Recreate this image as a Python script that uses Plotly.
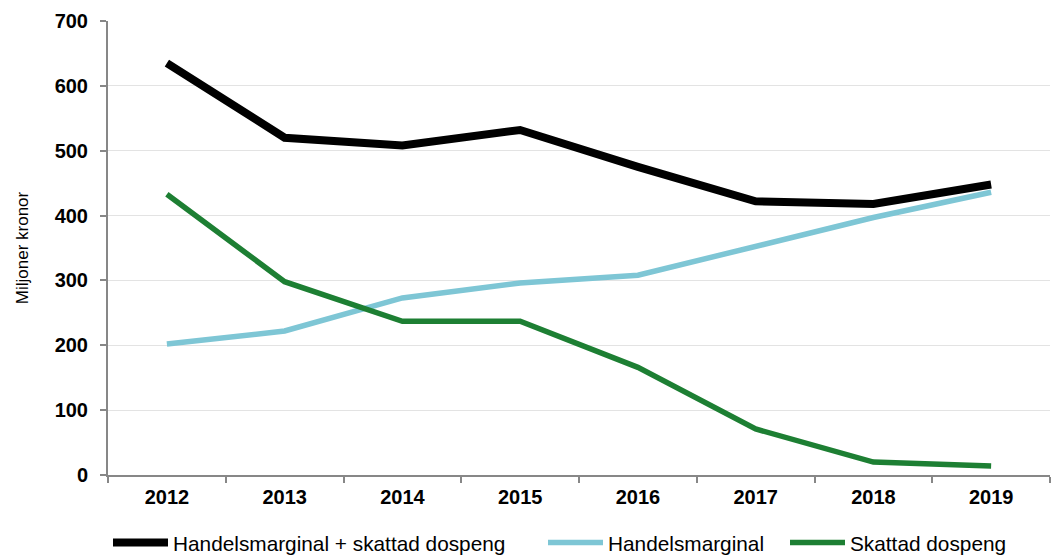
import plotly.graph_objects as go

years = ["2012", "2013", "2014", "2015", "2016", "2017", "2018", "2019"]
total = [635, 520, 508, 532, 475, 422, 418, 448]
handelsmarginal = [202, 222, 273, 296, 308, 352, 397, 436]
skattad = [433, 298, 237, 237, 166, 71, 20, 14]

FONT = "Liberation Sans, Arial, sans-serif"

fig = go.Figure()
fig.add_trace(go.Scatter(x=years, y=total, mode="lines", name="Handelsmarginal + skattad dospeng",
                         line=dict(color="#000000", width=8), legend="legend"))
fig.add_trace(go.Scatter(x=years, y=handelsmarginal, mode="lines", name="Handelsmarginal",
                         line=dict(color="#7EC6D5", width=5.5), legend="legend2"))
fig.add_trace(go.Scatter(x=years, y=skattad, mode="lines", name="Skattad dospeng",
                         line=dict(color="#1D7F33", width=5.5), legend="legend3"))

def leg(xpx):
    return dict(orientation="h", x=xpx / 1053, xanchor="left", xref="container",
                yref="container", y=0.027, yanchor="middle",
                font=dict(size=20.8, family=FONT), itemwidth=55,
                bgcolor="rgba(0,0,0,0)")

fig.update_layout(
    width=1053, height=558,
    margin=dict(l=108, r=3, t=21, b=83, autoexpand=False),
    paper_bgcolor="white", plot_bgcolor="white",
    font=dict(family=FONT, color="#000000"),
    showlegend=True,
    legend=leg(108),
    legend2=leg(543),
    legend3=leg(785),
    xaxis=dict(type="category", range=[-0.5, 7.5], showline=True, linecolor="#878787", linewidth=2,
               ticks="outside", tickson="boundaries", ticklen=6, tickcolor="#878787", tickwidth=2,
               ticklabelstandoff=3,
               showgrid=False, tickfont=dict(size=20, family=FONT, weight="bold")),
    yaxis=dict(range=[0, 700], dtick=100, showline=True, linecolor="#878787", linewidth=2,
               ticks="outside", ticklen=6, tickcolor="#878787", tickwidth=2,
               ticklabelstandoff=8,
               showgrid=True, gridcolor="#E3E3E3", gridwidth=1, zeroline=False,
               tickfont=dict(size=20, family=FONT, weight="bold"),
               title=dict(text="Miljoner kronor", font=dict(size=17, family=FONT), standoff=22)),
)

fig.write_html("out.html")
